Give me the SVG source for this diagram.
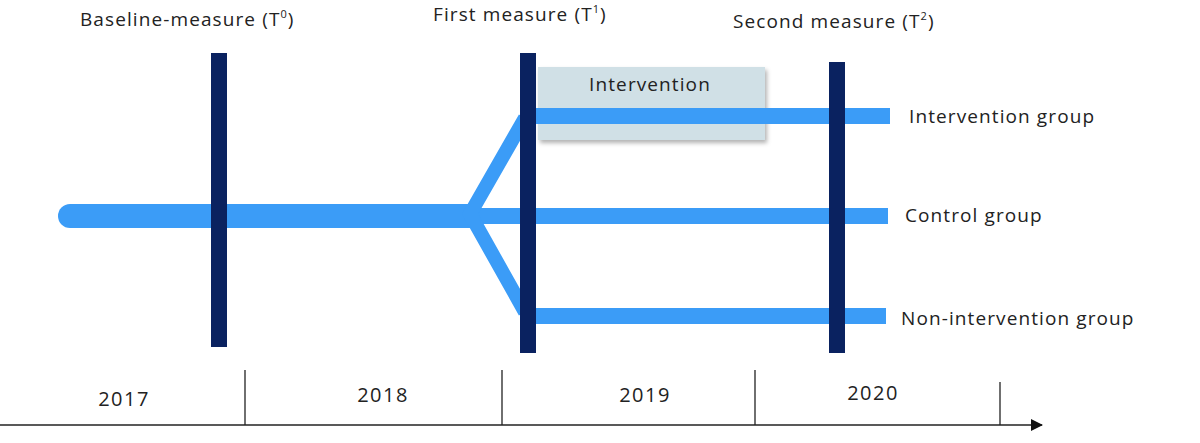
<svg xmlns="http://www.w3.org/2000/svg" width="1200" height="443" viewBox="0 0 1200 443">
<style>
text{font-family:"Open Sans","DejaVu Sans",sans-serif;font-size:19px;fill:#222;letter-spacing:1.1px}
.y{font-size:20px;letter-spacing:1.5px}
.b{stroke:#3b9cf7;fill:none}
.d{stroke:#0a2260;stroke-width:16}
.t{stroke:#222;stroke-width:1.3}
</style>
<defs>
<marker id="ar" markerWidth="12" markerHeight="12" refX="11" refY="6" orient="auto" markerUnits="userSpaceOnUse"><path d="M0,0 L12,6 L0,12 Z" fill="#111"/></marker>
<filter id="sh"><feDropShadow dx="2" dy="3" stdDeviation="2" flood-opacity="0.3"/></filter>
</defs>
<rect width="1200" height="443" fill="#fff"/>
<g id="intervention-box"><rect x="538" y="67" width="227" height="73" fill="#d0e0e6" filter="url(#sh)"/><text x="650" y="91" text-anchor="middle">Intervention</text></g>
<g id="connectors">
<line class="b" x1="70" y1="216" x2="470" y2="216" stroke-width="24" stroke-linecap="round"/>
<line class="b" x1="470" y1="216" x2="888" y2="216" stroke-width="16"/>
<polyline class="b" points="525,118 470,214 525,312" stroke-width="14"/>
<line class="b" x1="525" y1="116" x2="890" y2="116" stroke-width="16"/>
<line class="b" x1="525" y1="316" x2="886" y2="316" stroke-width="16"/>
<line class="d" x1="219" y1="53" x2="219" y2="347"/>
<line class="d" x1="528" y1="53" x2="528" y2="353"/>
<line class="d" x1="837" y1="62" x2="837" y2="353"/>
<line class="t" x1="0" y1="425" x2="1042" y2="425" marker-end="url(#ar)"/>
<line class="t" x1="245" y1="370" x2="245" y2="425"/>
<line class="t" x1="502" y1="370" x2="502" y2="425"/>
<line class="t" x1="755" y1="370" x2="755" y2="425"/>
<line class="t" x1="1000" y1="382" x2="1000" y2="425"/>
</g>
<g id="labels">
<text x="80" y="26">Baseline-measure  (T<tspan font-size="11" dy="-8">0</tspan><tspan dy="8">)</tspan></text>
<text x="433" y="21">First measure (T<tspan font-size="11" dy="-8">1</tspan><tspan dy="8">)</tspan></text>
<text x="733" y="28">Second measure (T<tspan font-size="11" dy="-8">2</tspan><tspan dy="8">)</tspan></text>
<text x="909" y="123">Intervention  group</text>
<text x="905" y="222">Control  group</text>
<text x="901" y="325">Non-intervention  group</text>
<text class="y" x="124" y="406" text-anchor="middle">2017</text>
<text class="y" x="383" y="402" text-anchor="middle">2018</text>
<text class="y" x="645" y="402" text-anchor="middle">2019</text>
<text class="y" x="873" y="400" text-anchor="middle">2020</text>
</g>
</svg>
